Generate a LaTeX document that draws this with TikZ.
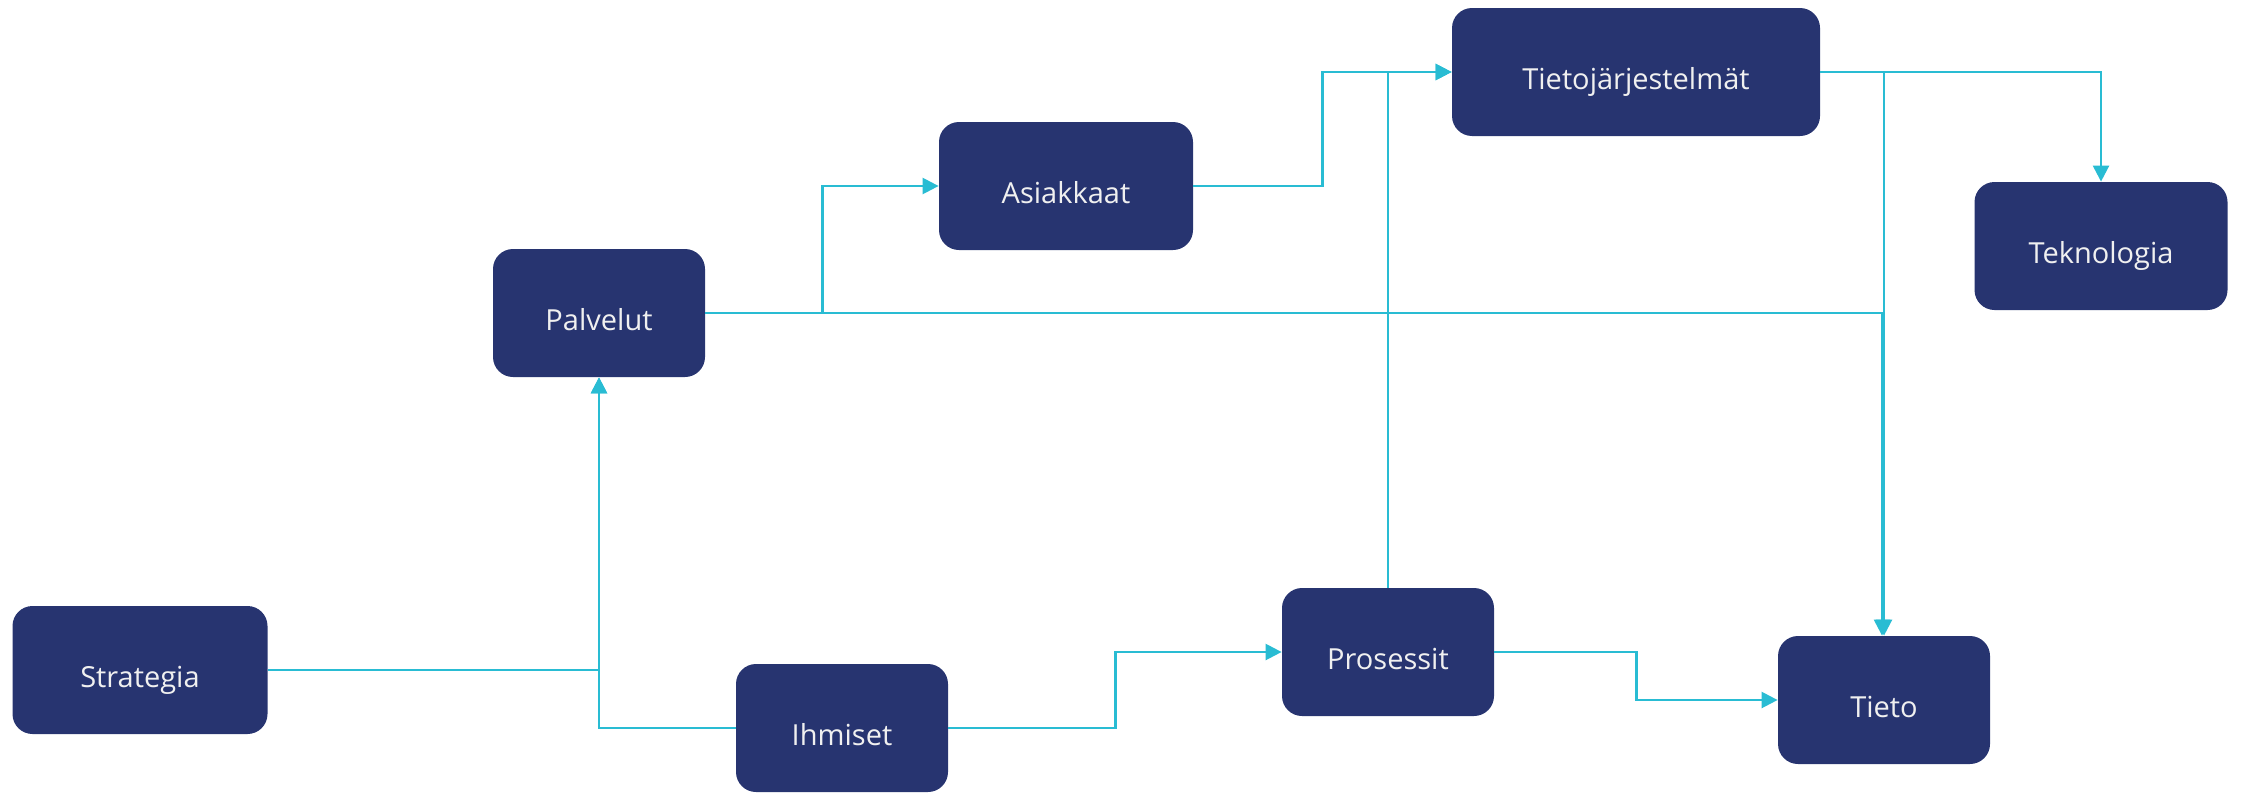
\documentclass[tikz,border=0pt]{standalone}
\usepackage{fontspec}
\setmainfont{Open Sans}
\usetikzlibrary{arrows.meta}
\definecolor{boxblue}{HTML}{273470}
\definecolor{linecyan}{HTML}{29BCD3}

\begin{document}
\begin{tikzpicture}
[x=0.5pt,y=-0.5pt,->,>={Triangle[length=8pt,width=8pt]},
 box/.style={rectangle,rounded corners=10pt,fill=boxblue,text=white!94!black,minimum height=64pt,inner sep=0pt,text height=17pt,text depth=0pt,font=\fontsize{14.5pt}{17pt}\selectfont},
 link/.style={draw=linecyan,line width=1.2pt}]
            \useasboundingbox[-] (0,0) rectangle (2241,793);
            \node[box,minimum width=127.5pt] (strat) at (140,670) {Strategia};
            \node[box,minimum width=106pt] (ihm) at (842,728) {Ihmiset};
            \node[box,minimum width=106pt] (palv) at (599,313) {Palvelut};
            \node[box,minimum width=127pt] (asiak) at (1066,186) {Asiakkaat};
            \node[box,minimum width=184pt] (tjarj) at (1636,72) {Tietojärjestelmät};
            \node[box,minimum width=126.5pt] (tekn) at (2101,246) {Teknologia};
            \node[box,minimum width=106pt] (pros) at (1388,652) {Prosessit};
            \node[box,minimum width=106pt] (tieto) at (1884,700) {Tieto};
            \draw[link] (strat.east) -| (palv.south);
            \draw[link] (ihm.west) -| (palv.south);
            \draw[link] (palv.east) -- ++(117,0) |- (asiak.west);
            \draw[link] (palv.east) -| ([xshift=-1pt]tieto.north);
            \draw[link] (asiak.east) -- ++(129,0) |- (tjarj.west);
            \draw[link] (pros.north) |- (tjarj.west);
            \draw[link] (tjarj.east) -| (tekn.north);
            \draw[link] (tjarj.east) -| (tieto.north);
            \draw[link] (ihm.east) -- ++(167,0) |- (pros.west);
            \draw[link] (pros.east) -- ++(142,0) |- (tieto.west);
\end{tikzpicture}
\end{document}
